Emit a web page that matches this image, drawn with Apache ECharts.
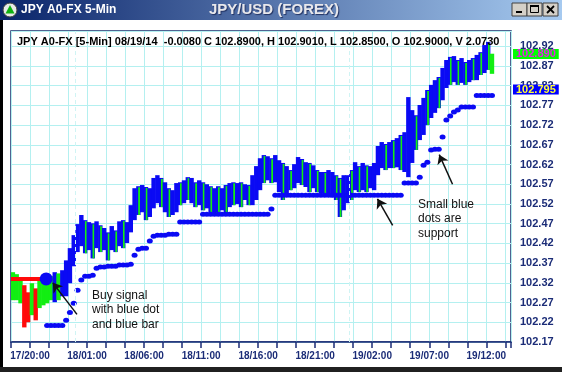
<!DOCTYPE html>
<html><head><meta charset="utf-8">
<script src="https://cdn.jsdelivr.net/npm/echarts@6/dist/echarts.min.js"></script>
<style>html,body{margin:0;padding:0;background:#fff;}#c{width:562px;height:372px;}</style>
</head><body><div id="c"></div>
<script>
// ---- data (prices) ----
const BASE = 102.17;              // lowest axis tick
const firstBar = -18;             // bar time, in 5-min steps from 17/20:00
const barStep = 4;                // each drawn bar = 20 minutes
const xTickLabels = ['17/20:00','18/01:00','18/06:00','18/11:00','18/16:00','18/21:00','19/02:00','19/07:00','19/12:00'];
const highs = [
102.347,102.342,102.334,102.314,102.296,102.319,102.306,102.327,102.327,102.332,
102.337,102.347,102.344,102.352,102.377,102.408,102.441,102.469,102.492,102.479,
102.474,102.471,102.476,102.466,102.459,102.448,102.464,102.453,102.476,102.479,
102.474,102.517,102.560,102.565,102.568,102.563,102.560,102.586,102.593,102.586,
102.575,102.560,102.555,102.573,102.575,102.580,102.588,102.586,102.575,102.580,
102.575,102.570,102.565,102.560,102.565,102.560,102.568,102.573,102.575,102.573,
102.575,102.570,102.568,102.593,102.616,102.636,102.644,102.641,102.636,102.644,
102.631,102.624,102.616,102.606,102.621,102.639,102.634,102.626,102.624,102.618,
102.606,102.601,102.601,102.606,102.601,102.593,102.586,102.593,102.593,102.606,
102.626,102.616,102.624,102.618,102.616,102.624,102.667,102.677,102.672,102.677,
102.682,102.687,102.695,102.702,102.791,102.758,102.745,102.771,102.789,102.809,
102.822,102.834,102.842,102.865,102.885,102.893,102.895,102.885,102.890,102.880,
102.885,102.890,102.898,102.905,102.923,102.931,102.901];
const lows = [
102.276,102.276,102.268,102.207,102.220,102.238,102.225,102.256,102.263,102.268,
102.276,102.271,102.276,102.286,102.286,102.319,102.362,102.398,102.413,102.395,
102.403,102.382,102.408,102.398,102.403,102.377,102.403,102.398,102.413,102.408,
102.421,102.448,102.479,102.492,102.499,102.479,102.487,102.509,102.522,102.512,
102.499,102.487,102.492,102.499,102.517,102.522,102.530,102.522,102.512,102.517,
102.504,102.509,102.499,102.497,102.499,102.504,102.497,102.512,102.517,102.520,
102.512,102.530,102.517,102.517,102.530,102.555,102.573,102.580,102.573,102.575,
102.550,102.530,102.542,102.555,102.560,102.573,102.568,102.563,102.550,102.560,
102.550,102.547,102.542,102.547,102.537,102.530,102.487,102.504,102.522,102.530,
102.555,102.550,102.555,102.550,102.560,102.555,102.593,102.611,102.606,102.611,
102.611,102.613,102.606,102.601,102.588,102.624,102.657,102.682,102.695,102.720,
102.738,102.751,102.763,102.783,102.814,102.822,102.829,102.822,102.827,102.822,
102.829,102.834,102.834,102.847,102.852,102.860,102.850];
// G = green bar, B = blue bar, R = red bar, M = blue bar with a green bar in it
const barColors = ("GGGRRGRGGG"+"GBGBBBBBBM"+"BMBMBMBMBM"+"BBBMBMBBBM"+"BMBBMBMBMB"+
  "MBMBMBMBMB"+"MBMBBBMBMB"+"BMBMBBMBMB"+"MBMBBMMBBM"+"BMBMBBBBMB"+"MBMBBBMBBM"+"BBMBBMBMBM"+"BMBMBMG").split('');
const support = [
null,null,null,null,null,null,null,null,null,102.212,
102.212,102.212,102.212,102.212,102.225,102.245,102.268,102.301,102.327,102.337,
102.337,102.339,102.357,102.360,102.360,102.362,102.362,102.362,102.365,102.365,
102.365,102.367,102.390,102.405,102.408,102.408,102.426,102.438,102.441,102.441,
102.441,102.443,102.443,102.443,102.474,102.474,102.474,102.474,102.474,102.474,
102.494,102.494,102.494,102.494,102.494,102.494,102.494,102.494,102.494,102.494,
102.494,102.494,102.494,102.494,102.494,102.494,102.494,102.494,102.507,102.542,
102.542,102.542,102.542,102.542,102.542,102.542,102.542,102.542,102.542,102.542,
102.542,102.542,102.542,102.542,102.542,102.542,102.542,102.542,102.542,102.542,
102.542,102.542,102.542,102.542,102.542,102.542,102.542,102.542,102.542,102.542,
102.542,102.542,102.542,102.573,102.573,102.573,102.573,102.588,102.618,102.626,
102.657,102.659,102.659,102.690,102.733,102.743,102.753,102.758,102.766,102.766,
102.766,102.766,102.795,102.795,102.795,102.795,102.795];
const stopLevel = 102.330;          // red line before the buy signal
const stopSpan = [-20, 18];         // bar times the red line covers
const buySignal = [17, 102.330];    // big blue dot
const lastClose = 102.890, lastSupport = 102.795;
const midnights = [48, 336];        // 18/00:00 and 19/00:00

// ---- chart ----
const NAVY = '#1b2c77', BLUE = '#0a0af4', GREEN = '#12ee12', RED = '#ff0a0a', GRID = '#b4f0f0';
const FONT = '"Liberation Sans", Arial, sans-serif';
const barData = highs.map((h, k) => [firstBar + k * barStep, h - BASE, lows[k] - BASE]);
const supData = support.map((s, k) => s == null ? null : [firstBar + k * barStep, s - BASE]).filter(d => d);

function renderBar(params, api) {
  const x = api.value(0);
  const top = api.coord([x, api.value(1)]);
  const bot = api.coord([x, api.value(2)]);
  const w = api.size([barStep, 0])[0];
  const h = Math.max(1, bot[1] - top[1]);
  const c = barColors[params.dataIndex];
  const fill = c === 'G' ? GREEN : c === 'R' ? RED : BLUE;
  const children = [{type: 'rect', shape: {x: top[0] - w / 2 - 0.3, y: top[1], width: w + 0.6, height: h}, style: {fill: fill}}];
  if (c === 'M') children.push({type: 'rect', shape: {x: top[0] - 0.2, y: top[1] + 1, width: 1.8, height: h - 1}, style: {fill: GREEN}});
  return {type: 'group', children: children};
}

function xLabel(v) {
  if (v < 0 || v % 60 !== 0) return '';
  return xTickLabels[v / 60] || '';
}

const tagLabel = (txt, bg, fg) => ({show: true, position: 'end', formatter: txt, backgroundColor: bg, color: fg,
  fontFamily: FONT, fontWeight: 'bold', fontSize: 11, lineHeight: 10, padding: [0, 3, 0, 3], distance: 2, offset: [0, -4]});

const chart = echarts.init(document.getElementById('c'), null, {renderer: 'canvas'});
chart.setOption({
  animation: false,
  backgroundColor: '#ffffff',
  grid: {left: 11, right: 51, top: 31, bottom: 30, show: true, borderColor: '#17306e', borderWidth: 1.5, backgroundColor: 'rgba(0,0,0,0)'},
  xAxis: {
    type: 'value', min: -20, max: 506, interval: 20,
    axisLine: {show: true, onZero: false, lineStyle: {color: NAVY, width: 1.5}},
    axisTick: {show: true, length: 6, lineStyle: {color: NAVY, width: 1.5}},
    axisLabel: {formatter: xLabel, color: NAVY, fontWeight: 'bold', fontSize: 10, fontFamily: FONT, margin: 9},
    splitLine: {show: true, lineStyle: {color: GRID, width: 1}}
  },
  yAxis: {
    type: 'value', position: 'right', min: 0, max: 0.7886, interval: 0.05,
    axisLine: {show: false}, axisTick: {show: false},
    axisLabel: {formatter: v => (v + BASE).toFixed(2), color: NAVY, fontWeight: 'bold', fontSize: 11, fontFamily: FONT, margin: 9, showMaxLabel: false},
    splitLine: {show: true, lineStyle: {color: GRID, width: 1}}
  },
  series: [
    {type: 'line', data: [], z: 1, silent: true,
      markLine: {silent: true, symbol: 'none', label: {show: false},
        lineStyle: {color: '#d0f4f4', type: [4, 3], width: 1}, data: midnights.map(m => ({xAxis: m}))}},
    {type: 'custom', renderItem: renderBar, data: barData, z: 2, clip: true,
      encode: {x: 0, y: [1, 2]}},
    {type: 'scatter', data: supData, symbol: 'circle', symbolSize: [6, 5], itemStyle: {color: BLUE, opacity: 1}, z: 3},
    {type: 'line', data: [], z: 20,
      markLine: {silent: true, symbol: 'none', lineStyle: {color: 'rgba(0,0,0,0)', width: 0.1},
        data: [
          {yAxis: lastClose - BASE, label: tagLabel(lastClose.toFixed(3), '#00ff00', '#e61ee6')},
          {yAxis: lastSupport - BASE, label: tagLabel(lastSupport.toFixed(3), '#0000ff', '#ffff30')}
        ]}},
    {type: 'line', data: stopSpan.map(x => [x, stopLevel - BASE]), symbol: 'none', z: 4,
      lineStyle: {color: RED, width: 4}},
    {type: 'scatter', data: [[buySignal[0], buySignal[1] - BASE]], symbol: 'circle', symbolSize: 13, itemStyle: {color: BLUE, opacity: 1}, z: 5},
    {type: 'line', data: [], z: 6,
      markLine: {silent: true, symbol: ['none', 'arrow'], symbolSize: 9, label: {show: false},
        lineStyle: {color: '#111111', width: 1.5, type: 'solid'},
        data: [
          [{coord: [49.4, 102.240 - BASE]}, {coord: [24.0, 102.320 - BASE]}],
          [{coord: [381.5, 102.466 - BASE]}, {coord: [365.5, 102.533 - BASE]}],
          [{coord: [444.5, 102.570 - BASE]}, {coord: [430.5, 102.645 - BASE]}]
        ]}}
  ],
  graphic: [
    {type: 'rect', shape: {x: 0, y: 0, width: 562, height: 20}, z: 10,
      style: {fill: new echarts.graphic.LinearGradient(0, 0, 1, 0, [{offset: 0, color: '#0a246a'}, {offset: 1, color: '#a6caf0'}])}},
    {type: 'circle', shape: {cx: 10, cy: 10, r: 7}, z: 11, style: {fill: '#e8e8e8', stroke: '#404040', lineWidth: 1}},
    {type: 'polygon', shape: {points: [[10, 5], [14.5, 13.5], [5.5, 13.5]]}, z: 12, style: {fill: '#10b010'}},
    {type: 'text', x: 21, y: 10, z: 11, style: {text: 'JPY A0-FX 5-Min', fill: '#ffffff', font: 'bold 12px ' + FONT, verticalAlign: 'middle'}},
    {type: 'text', x: 274, y: 10, z: 11, style: {text: 'JPY/USD (FOREX)', fill: '#e8e8ec', font: 'bold 15px ' + FONT, align: 'center', verticalAlign: 'middle',
      textShadowColor: '#203060', textShadowBlur: 1, textShadowOffsetX: 1, textShadowOffsetY: 1}},
    // window buttons
    {type: 'rect', shape: {x: 512, y: 3, width: 15, height: 13}, z: 11, style: {fill: '#d4d0c8', stroke: '#404040', lineWidth: 1}},
    {type: 'rect', shape: {x: 516, y: 11, width: 6, height: 2}, z: 12, style: {fill: '#000'}},
    {type: 'rect', shape: {x: 527, y: 3, width: 15, height: 13}, z: 11, style: {fill: '#d4d0c8', stroke: '#404040', lineWidth: 1}},
    {type: 'rect', shape: {x: 530.5, y: 5.5, width: 8, height: 7}, z: 12, style: {fill: 'none', stroke: '#000', lineWidth: 1}},
    {type: 'rect', shape: {x: 530, y: 5, width: 9, height: 2}, z: 12, style: {fill: '#000'}},
    {type: 'rect', shape: {x: 543, y: 3, width: 15, height: 13}, z: 11, style: {fill: '#d4d0c8', stroke: '#404040', lineWidth: 1}},
    {type: 'polyline', shape: {points: [[547, 6], [554, 13]]}, z: 12, style: {stroke: '#000', lineWidth: 1.8}},
    {type: 'polyline', shape: {points: [[554, 6], [547, 13]]}, z: 12, style: {stroke: '#000', lineWidth: 1.8}},
    // window frame
    {type: 'rect', shape: {x: 0, y: 20, width: 3, height: 352}, z: 10, style: {fill: '#000'}},
    {type: 'rect', shape: {x: 0, y: 367, width: 562, height: 5}, z: 10, style: {fill: '#202020'}},
    // header & notes
    {type: 'text', x: 17, y: 42, z: 11, style: {text: 'JPY A0-FX [5-Min] 08/19/14  -0.0080 C 102.8900, H 102.9010, L 102.8500, O 102.9000, V 2.0730',
      fill: '#000', font: 'bold 11px ' + FONT, verticalAlign: 'middle'}},
    {type: 'text', x: 92, y: 288, z: 11, style: {text: 'Buy signal\nwith blue dot\nand blue bar', fill: '#111', font: '12px ' + FONT, lineHeight: 14.5, verticalAlign: 'top'}},
    {type: 'text', x: 418, y: 197, z: 11, style: {text: 'Small blue\ndots are\nsupport', fill: '#111', font: '12px ' + FONT, lineHeight: 14.5, verticalAlign: 'top'}}
  ]
});
</script>
</body></html>
